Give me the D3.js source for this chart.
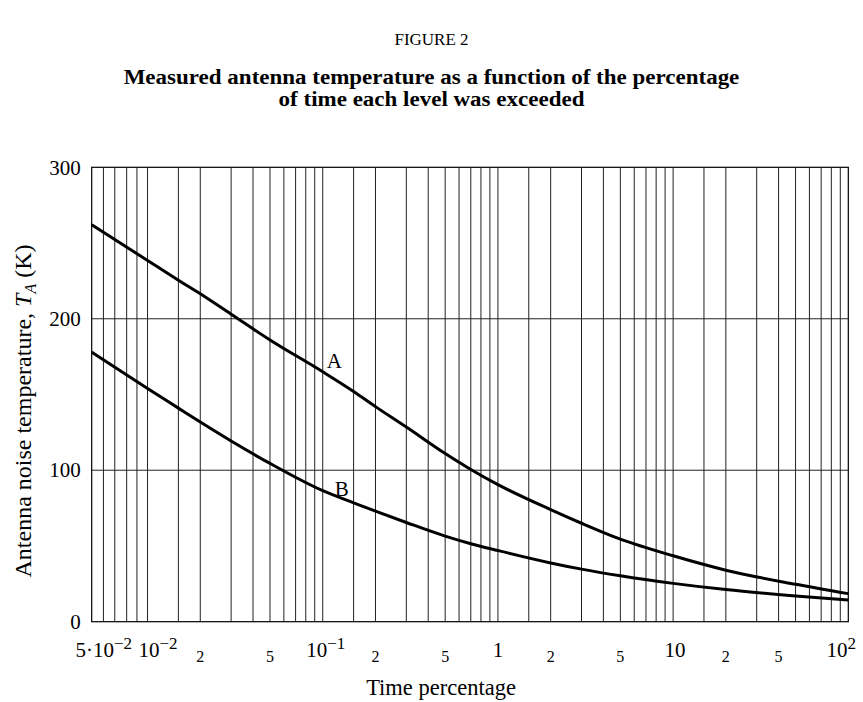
<!DOCTYPE html>
<html>
<head>
<meta charset="utf-8">
<script src="https://cdn.jsdelivr.net/npm/d3@7"></script>
<style>
  body { margin: 0; background: #fff; }
  svg { display: block; font-family: "Liberation Serif", "Times New Roman", serif; }
</style>
</head>
<body>
<svg id="chart"></svg>
<script>
// time percentage samples (x) and antenna temperature (K)
const timePct = [0.0048, 0.01, 0.015, 0.02, 0.03, 0.05, 0.1, 0.15, 0.2, 0.3, 0.5, 0.7, 1, 2, 3, 5, 10, 20, 50, 100];
const curveA  = [262, 238.5, 225.5, 216.5, 203, 186, 165, 152, 142, 128.5, 111, 100.5, 90.5, 74, 65, 54.5, 43.5, 34, 24.7, 18.5];
const curveB  = [178, 154, 141, 131.8, 119.3, 104.5, 86.5, 78.5, 73, 65.5, 56.5, 51.5, 47, 38.8, 34.7, 30.3, 25.3, 21.2, 17, 14.3];

// vertical grid lines (the first partial decade is drawn unevenly in the source)
const xGrid = [0.0056, 0.0065, 0.0076, 0.0087,
  0.01, 0.015, 0.02, 0.03, 0.04, 0.05, 0.06, 0.07, 0.08, 0.09,
  0.1, 0.15, 0.2, 0.3, 0.4, 0.5, 0.6, 0.7, 0.8, 0.9,
  1, 1.5, 2, 3, 4, 5, 6, 7, 8, 9,
  10, 15, 20, 30, 40, 50, 60, 70, 80, 90];
const yTicks = [0, 100, 200, 300];

// x tick labels: position, base text, superscript
const xLabelPos  = [0.0048, 0.01, 0.02, 0.05, 0.1, 0.2, 0.5, 1, 2, 5, 10, 20, 40, 100];
const xLabelBase = ['5·10', '10', '2', '5', '10', '2', '5', '1', '2', '5', '10', '2', '5', '10'];
const xLabelSup  = ['−2', '−2', '', '', '−1', '', '', '', '', '', '', '', '', '2'];
const xLabelNudge = [12, 10.5, 0, 0, 3, 0, 0, 0, 0, 0, 2, 0, 0, -7];

const width = 863, height = 702;
const marginTop = 167.3, marginRight = 14.7, marginBottom = 80.3, marginLeft = 91.7;

const x = d3.scaleLog().domain([0.0048, 100]).range([marginLeft, width - marginRight]);
const y = d3.scaleLinear().domain([0, 300]).range([height - marginBottom, marginTop]);

const svg = d3.select('#chart')
  .attr('width', width)
  .attr('height', height)
  .attr('viewBox', [0, 0, width, height]);

// Titles
svg.append('text')
  .attr('x', width / 2).attr('y', 45)
  .attr('text-anchor', 'middle')
  .attr('font-size', 17)
  .text('FIGURE 2');

// the source uses a narrow, tall bold face: stretch a smaller font sideways
svg.append('g')
  .attr('transform', `translate(${width / 2},0) scale(1.15,1)`)
  .append('text')
  .attr('text-anchor', 'middle')
  .attr('font-size', 20)
  .attr('font-weight', 'bold')
  .selectAll('tspan')
  .data(['Measured antenna temperature as a function of the percentage', 'of time each level was exceeded'])
  .join('tspan')
    .attr('x', 0)
    .attr('y', (_, i) => 84 + i * 22.5)
    .text(d => d);

// Grid
const grid = svg.append('g').attr('stroke', '#222').attr('stroke-width', 1);

grid.selectAll('line.v')
  .data(xGrid)
  .join('line')
    .attr('class', 'v')
    .attr('x1', d => x(d)).attr('x2', d => x(d))
    .attr('y1', y(300)).attr('y2', y(0));

grid.selectAll('line.h')
  .data(yTicks.slice(1, -1))
  .join('line')
    .attr('class', 'h')
    .attr('x1', x.range()[0]).attr('x2', x.range()[1])
    .attr('y1', d => y(d)).attr('y2', d => y(d));

// Frame
svg.append('rect')
  .attr('x', x.range()[0]).attr('y', y(300))
  .attr('width', x.range()[1] - x.range()[0])
  .attr('height', y(0) - y(300))
  .attr('fill', 'none')
  .attr('stroke', '#000')
  .attr('stroke-width', 1.2);

// Y axis
svg.append('g')
  .attr('transform', `translate(${marginLeft},0)`)
  .call(d3.axisLeft(y).tickValues(yTicks).tickSize(0).tickPadding(11))
  .call(g => g.select('.domain').remove())
  .call(g => g.selectAll('text')
    .attr('font-family', '"Liberation Serif", serif')
    .attr('font-size', 21)
    .attr('fill', '#000'));

// X labels
const xl = svg.append('g');
xLabelPos.forEach((v, i) => {
  const major = xLabelSup[i] !== '' || xLabelBase[i] === '1' || xLabelBase[i] === '10';
  const t = xl.append('text')
    .attr('x', x(v) + xLabelNudge[i])
    .attr('y', major ? 657 : 662)
    .attr('text-anchor', 'middle')
    .attr('font-size', major ? 21 : 16);
  t.append('tspan').text(xLabelBase[i]);
  if (xLabelSup[i]) {
    t.append('tspan')
      .attr('font-size', 17)
      .attr('dy', -8)
      .text(xLabelSup[i]);
  }
});

// Axis titles
svg.append('text')
  .attr('x', 441).attr('y', 695)
  .attr('text-anchor', 'middle')
  .attr('font-size', 22.5)
  .text('Time percentage');

const yt = svg.append('text')
  .attr('transform', 'translate(31,411) rotate(-90)')
  .attr('text-anchor', 'middle')
  .attr('font-size', 24);
yt.append('tspan').text('Antenna noise temperature, ');
yt.append('tspan').attr('font-style', 'italic').text('T');
yt.append('tspan').attr('font-size', 16).attr('font-style', 'italic').attr('dy', 5).text('A');
yt.append('tspan').attr('dy', -5).text(' (K)');

// Curves
const line = d3.line()
  .curve(d3.curveMonotoneX)
  .x((d, i) => x(timePct[i]))
  .y(d => y(d));

svg.append('g')
  .attr('fill', 'none')
  .attr('stroke', '#000')
  .attr('stroke-width', 3)
  .attr('stroke-linejoin', 'round')
  .selectAll('path')
  .data([curveA, curveB])
  .join('path')
    .attr('d', d => line(d));

// Curve labels
svg.append('text')
  .attr('x', x(0.1) + 4).attr('y', y(165) - 4)
  .attr('font-size', 21)
  .text('A');
svg.append('text')
  .attr('x', x(0.1) + 12).attr('y', y(86) + 5)
  .attr('font-size', 21)
  .text('B');
</script>
</body>
</html>
